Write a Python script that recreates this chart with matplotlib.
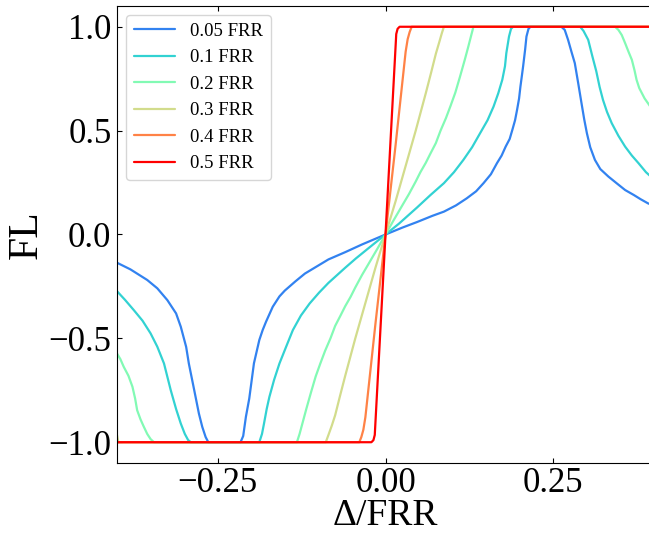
import matplotlib
matplotlib.use('Agg')
import matplotlib.pyplot as plt

plt.rcParams['font.family'] = ['Liberation Serif', 'DejaVu Serif']

labels = ['0.05 FRR', '0.1 FRR', '0.2 FRR', '0.3 FRR', '0.4 FRR', '0.5 FRR']
colors = ['#3282F0', '#32D2D2', '#82FAB4', '#D2DC8C', '#FF8246', '#FF0000']

# curves, delta/FRR vs FL
x05 = [-0.400, -0.380, -0.355, -0.340, -0.325, -0.312, -0.305, -0.297, -0.293, -0.285,
       -0.278, -0.273, -0.268, -0.264, -0.216, -0.212, -0.208, -0.203, -0.196, -0.188,
       -0.183, -0.178, -0.168, -0.158, -0.150, -0.134, -0.120, -0.103, -0.085, -0.060,
       -0.035, 0.000, 0.025, 0.047, 0.070, 0.087, 0.105, 0.121, 0.135, 0.146,
       0.157, 0.166, 0.173, 0.179, 0.185, 0.189, 0.193, 0.196, 0.199, 0.201,
       0.203, 0.205, 0.208, 0.210, 0.213, 0.216, 0.262, 0.267, 0.272, 0.277,
       0.282, 0.287, 0.292, 0.296, 0.300, 0.305, 0.312, 0.320, 0.332, 0.345,
       0.357, 0.370, 0.380, 0.391, 0.400]
y05 = [-0.136, -0.168, -0.219, -0.259, -0.316, -0.380, -0.444, -0.541, -0.621, -0.749,
       -0.862, -0.926, -0.975, -1.000, -1.000, -0.970, -0.878, -0.790, -0.620, -0.508,
       -0.460, -0.420, -0.348, -0.298, -0.270, -0.225, -0.188, -0.155, -0.120, -0.085,
       -0.048, 0.000, 0.033, 0.060, 0.090, 0.110, 0.140, 0.174, 0.208, 0.247,
       0.290, 0.343, 0.380, 0.423, 0.460, 0.504, 0.550, 0.600, 0.655, 0.712,
       0.760, 0.809, 0.890, 0.953, 0.990, 1.000, 1.000, 0.985, 0.937, 0.880,
       0.825, 0.730, 0.632, 0.555, 0.488, 0.420, 0.359, 0.315, 0.279, 0.245,
       0.214, 0.190, 0.170, 0.150, 0.138]

x10 = [-0.400, -0.388, -0.375, -0.362, -0.350, -0.340, -0.330, -0.325, -0.320, -0.312,
       -0.305, -0.299, -0.294, -0.290, -0.188, -0.184, -0.181, -0.177, -0.173, -0.166,
       -0.158, -0.148, -0.138, -0.126, -0.113, -0.099, -0.085, -0.072, -0.060, -0.044,
       -0.020, 0.000, 0.020, 0.047, 0.067, 0.087, 0.102, 0.116, 0.129, 0.141,
       0.152, 0.161, 0.168, 0.174, 0.178, 0.180, 0.184, 0.187, 0.190, 0.290,
       0.295, 0.302, 0.308, 0.314, 0.319, 0.324, 0.330, 0.337, 0.347, 0.357,
       0.367, 0.377, 0.388, 0.400]
y10 = [-0.273, -0.315, -0.364, -0.415, -0.476, -0.540, -0.621, -0.685, -0.749, -0.840,
       -0.910, -0.960, -0.990, -1.000, -1.000, -0.960, -0.910, -0.840, -0.782, -0.700,
       -0.621, -0.540, -0.460, -0.390, -0.332, -0.280, -0.233, -0.195, -0.160, -0.115,
       -0.052, 0.000, 0.052, 0.130, 0.190, 0.247, 0.300, 0.359, 0.420, 0.488,
       0.550, 0.616, 0.680, 0.745, 0.810, 0.873, 0.953, 0.990, 1.000, 1.000,
       0.980, 0.937, 0.860, 0.786, 0.710, 0.648, 0.590, 0.536, 0.475, 0.423,
       0.380, 0.343, 0.300, 0.265]

x20 = [-0.400, -0.395, -0.390, -0.383, -0.377, -0.373, -0.370, -0.365, -0.360, -0.355,
       -0.350, -0.345, -0.132, -0.128, -0.123, -0.118, -0.111, -0.104, -0.097, -0.090,
       -0.082, -0.075, -0.067, -0.060, -0.052, -0.045, -0.035, -0.025, -0.012, 0.000,
       0.012, 0.025, 0.035, 0.045, 0.052, 0.060, 0.067, 0.075, 0.082, 0.090,
       0.097, 0.104, 0.111, 0.118, 0.123, 0.127, 0.131, 0.342, 0.347, 0.352,
       0.357, 0.362, 0.367, 0.371, 0.374, 0.378, 0.382, 0.386, 0.391, 0.400]
y20 = [-0.573, -0.600, -0.637, -0.680, -0.733, -0.790, -0.846, -0.890, -0.926, -0.960,
       -0.985, -1.000, -1.000, -0.960, -0.900, -0.840, -0.760, -0.683, -0.620, -0.560,
       -0.500, -0.440, -0.390, -0.345, -0.300, -0.255, -0.195, -0.140, -0.068, 0.000,
       0.068, 0.140, 0.195, 0.255, 0.300, 0.345, 0.390, 0.440, 0.500, 0.560,
       0.620, 0.683, 0.760, 0.840, 0.900, 0.950, 1.000, 1.000, 0.985, 0.960,
       0.921, 0.880, 0.841, 0.790, 0.745, 0.705, 0.680, 0.655, 0.632, 0.590]

x30 = [-0.400, -0.398, -0.089, -0.085, -0.080, -0.075, -0.068, -0.060, -0.045, -0.030,
       -0.015, 0.000, 0.015, 0.030, 0.045, 0.060, 0.068, 0.075, 0.080, 0.084,
       0.087, 0.398, 0.400]
y30 = [-0.966, -1.000, -1.000, -0.965, -0.920, -0.870, -0.780, -0.680, -0.500, -0.330,
       -0.160, 0.000, 0.160, 0.330, 0.500, 0.680, 0.780, 0.870, 0.925, 0.970,
       1.000, 1.000, 0.966]

x40 = [-0.400, -0.039, -0.036, -0.033, -0.030, -0.024, -0.015, 0.000, 0.015, 0.024,
       0.030, 0.033, 0.036, 0.039, 0.400]
y40 = [-1.000, -1.000, -0.975, -0.940, -0.880, -0.700, -0.430, 0.000, 0.430, 0.700,
       0.880, 0.940, 0.975, 1.000, 1.000]

x50 = [-0.400, -0.021, -0.018, -0.016, 0.000, 0.016, 0.018, 0.021, 0.400]
y50 = [-1.000, -1.000, -0.990, -0.965, 0.000, 0.965, 0.990, 1.000, 1.000]

xs = [x05, x10, x20, x30, x40, x50]
ys = [y05, y10, y20, y30, y40, y50]

fig = plt.figure(figsize=(6.49, 5.35), dpi=100)
ax = fig.add_axes([0.1803, 0.1346, 0.8274, 0.8542])

for x, y, c, lab in zip(xs, ys, colors, labels):
    ax.plot(x, y, color=c, lw=1.6, label=lab,
            solid_joinstyle='round', solid_capstyle='round')

ax.set_xlim(-0.4, 0.4)
ax.set_ylim(-1.1, 1.1)
ax.set_xticks([-0.25, 0.0, 0.25])
ax.set_yticks([-1.0, -0.5, 0.0, 0.5, 1.0])
ax.tick_params(direction='in', top=True, right=True, labelsize=25)
ax.tick_params(axis='x', pad=3)
ax.tick_params(axis='y', pad=4)
ax.set_xlabel('Δ/FRR', fontsize=27, labelpad=-1)
ax.set_ylabel('FL', fontsize=30, labelpad=2)

ax.legend(loc='upper left', fontsize=13.5, handlelength=2.2)

fig.savefig('out.png', dpi=100)
